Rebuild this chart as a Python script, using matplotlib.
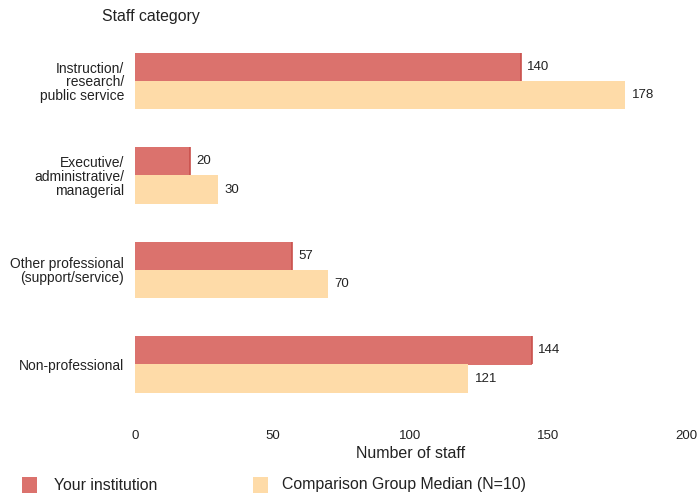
import matplotlib
matplotlib.use("Agg")
import matplotlib.pyplot as plt
from matplotlib.patches import Rectangle
import numpy as np

categories = ["Instruction/\nresearch/\npublic service",
              "Executive/\nadministrative/\nmanagerial",
              "Other professional\n(support/service)",
              "Non-professional"]
your_inst = [140, 20, 57, 144]
comparison = [178, 30, 70, 121]
xticks = [0, 50, 100, 150, 200]
series_names = ["Your institution", "Comparison Group Median (N=10)"]

red = "#db726d"
red_edge = "#c9504c"
peach = "#fedba8"
txt = "#222222"

plt.rcParams['font.family'] = ['Liberation Sans', 'DejaVu Sans']

W, H = 699, 500
fig = plt.figure(figsize=(W/100, H/100), dpi=100)
left, right = 135/W, 686/W
top_px, bot_px = 30, 415
ax = fig.add_axes([left, 1 - bot_px/H, right - left, (bot_px - top_px)/H])

y = np.arange(len(categories))
h = 0.297
ax.barh(y - h/2, your_inst, height=h, color=red, edgecolor='none')
ax.barh(y + h/2, comparison, height=h, color=peach, edgecolor='none')
for yi, v in zip(y, your_inst):
    ax.plot([v, v], [yi - h, yi], color=red_edge, lw=1.2, solid_capstyle='butt')

for yi, v in zip(y, your_inst):
    ax.text(v + 2.3, yi - h/2, str(v), va='center', ha='left', fontsize=9.5, color=txt)
for yi, v in zip(y, comparison):
    ax.text(v + 2.3, yi + h/2, str(v), va='center', ha='left', fontsize=9.5, color=txt)

ppu = 94.5
ax.set_ylim(3 + (bot_px - 364.5)/ppu, -(81 - top_px)/ppu)
ax.set_xlim(0, 200)
ax.set_yticks(y)
ax.set_yticklabels(categories, fontsize=10, color=txt, linespacing=0.98,
                   multialignment='right')
ax.set_xticks(xticks)
ax.set_xticklabels([str(t) for t in xticks], fontsize=9.5, color=txt)
ax.tick_params(axis='both', length=0)
ax.tick_params(axis='x', pad=11)
ax.tick_params(axis='y', pad=8)
for s in ax.spines.values():
    s.set_visible(False)

ax.set_xlabel("Number of staff", fontsize=11.5, color=txt, labelpad=3)
fig.text(102/W, 1 - 17/H, "Staff category", fontsize=11.4, color=txt, va='center', ha='left')

# legend
leg_y = 485
for (x0, x1, xt), col, name in zip([(22, 37, 54), (253, 268, 282)], [red, peach], series_names):
    fig.patches.append(Rectangle((x0/W, 1 - (leg_y + 8)/H), (x1 - x0)/W, 16/H,
                                 transform=fig.transFigure, facecolor=col, edgecolor='none'))
    fig.text(xt/W, 1 - leg_y/H, name, fontsize=11.4, color=txt, va='center', ha='left')

fig.savefig("out.png", dpi=100, facecolor='white')
